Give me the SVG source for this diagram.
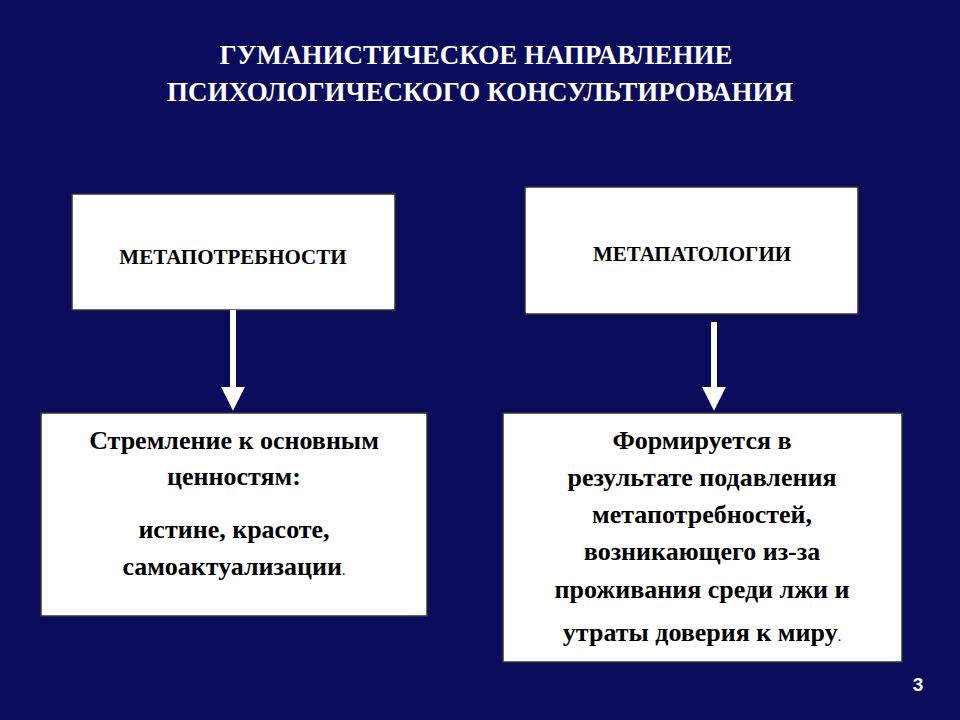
<svg xmlns="http://www.w3.org/2000/svg" width="960" height="720" viewBox="0 0 960 720">
<style>
.t{font-family:"Liberation Serif",serif;font-weight:bold;fill:#000;text-anchor:middle}
.h{font-family:"Liberation Serif",serif;font-weight:bold;fill:#fff;text-anchor:middle;font-size:27px}
.box{fill:#fff;stroke:#333;stroke-width:1.5}
</style>
<defs>
<marker id="ah" markerWidth="4" markerHeight="4" refX="2.2" refY="2" orient="auto" markerUnits="strokeWidth"><path d="M0,0 L4,2 L0,4 z" fill="#fff"/></marker>
</defs>
<rect width="960" height="720" fill="#0b0b5c"/>
<text class="h" x="476" y="64">ГУМАНИСТИЧЕСКОЕ НАПРАВЛЕНИЕ</text>
<text class="h" x="480" y="101">ПСИХОЛОГИЧЕСКОГО КОНСУЛЬТИРОВАНИЯ</text>
<g id="n1"><rect class="box" x="72" y="194" width="323" height="116"/><text class="t" x="233" y="264" font-size="21">МЕТАПОТРЕБНОСТИ</text></g>
<g id="n2"><rect class="box" x="525" y="187" width="333" height="127"/><text class="t" x="692" y="261" font-size="21">МЕТАПАТОЛОГИИ</text></g>
<g id="n3"><rect class="box" x="41" y="413" width="386" height="203"/>
<text class="t" x="234" y="449" font-size="26">Стремление к основным</text>
<text class="t" x="234" y="485" font-size="26">ценностям:</text>
<text class="t" x="234" y="538" font-size="26">истине, красоте,</text>
<text class="t" x="234" y="575" font-size="26">самоактуализации<tspan font-weight="normal" font-size="14">.</tspan></text></g>
<g id="n4"><rect class="box" x="503" y="413" width="399" height="249"/>
<text class="t" x="702" y="449" font-size="26">Формируется в</text>
<text class="t" x="702" y="486" font-size="26">результате подавления</text>
<text class="t" x="702" y="523" font-size="26">метапотребностей,</text>
<text class="t" x="702" y="560" font-size="26">возникающего из-за</text>
<text class="t" x="702" y="598" font-size="26">проживания среди лжи и</text>
<text class="t" x="702" y="641" font-size="26">утраты доверия к миру<tspan font-weight="normal" font-size="14">.</tspan></text></g>
<g id="connectors" stroke="#fff" stroke-width="6" fill="none">
<line x1="233" y1="310" x2="233" y2="400" marker-end="url(#ah)"/>
<line x1="714" y1="322" x2="714" y2="400" marker-end="url(#ah)"/>
</g>
<text x="918" y="691" font-family="Liberation Sans,sans-serif" font-weight="bold" font-size="19" fill="#fff" text-anchor="middle">3</text>
</svg>
